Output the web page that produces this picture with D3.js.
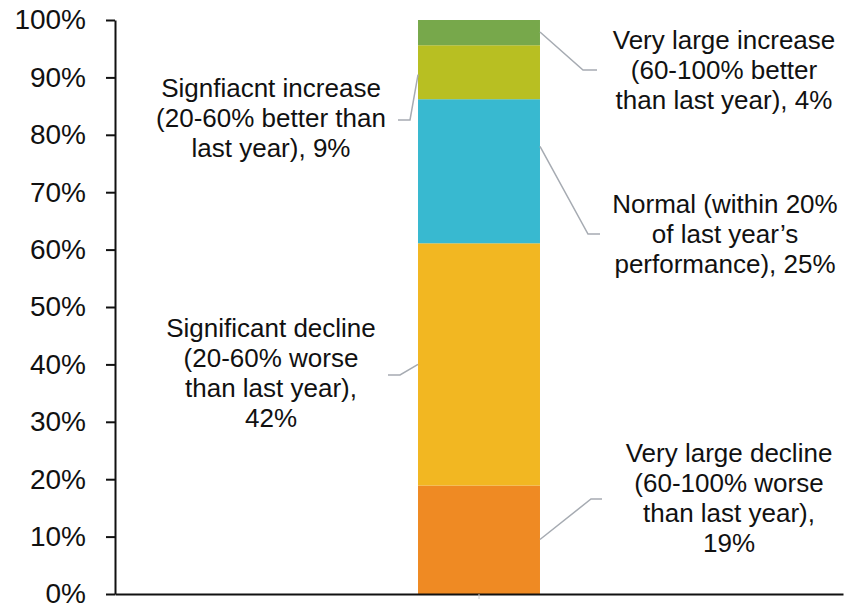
<!DOCTYPE html>
<html>
<head>
<meta charset="utf-8">
<script src="https://cdn.jsdelivr.net/npm/d3@7"></script>
<style>
  body { margin: 0; background: #fff; }
  text { font-family: "Liberation Sans", Arial, sans-serif; fill: #111; }
</style>
</head>
<body>
<svg width="846" height="604"></svg>
<script>
// Shares of each performance band, bottom to top
var categories = ["all"];
var bands = ["Very large decline", "Significant decline", "Normal", "Significant increase", "Very large increase"];
var values = [18.9, 42.2, 25.1, 9.4, 4.4];
var colors = ["#ef8a23", "#f2b722", "#38b9d0", "#b8bf22", "#77a84b"];
var labels = [
    ["Very large decline", "(60-100% worse", "than last year),", "19%"],
    ["Significant decline", "(20-60% worse", "than last year),", "42%"],
    ["Normal (within 20%", "of last year\u2019s", "performance), 25%"],
    ["Signfiacnt increase", "(20-60% better than", "last year), 9%"],
    ["Very large increase", "(60-100% better", "than last year), 4%"]
];
var yTicks = [0, 10, 20, 30, 40, 50, 60, 70, 80, 90, 100];

var svg = d3.select("svg"),
    plotLeft = 115, plotRight = 843, plotTop = 20, plotBottom = 594;

var x = d3.scaleBand().domain(categories).range([plotLeft, plotRight]).padding(0.713);
var y = d3.scaleLinear().domain([0, 100]).range([plotBottom, plotTop]);

// stack the segments
var stacked = [];
var acc = 0;
for (var i = 0; i < values.length; i++) {
    stacked.push({ name: bands[i], y0: acc, y1: acc + values[i], color: colors[i], lines: labels[i] });
    acc += values[i];
}

svg.append("g")
    .selectAll("rect")
    .data(stacked)
    .enter().append("rect")
    .attr("x", x("all"))
    .attr("width", x.bandwidth())
    .attr("y", function(d) { return y(d.y1); })
    .attr("height", function(d) { return y(d.y0) - y(d.y1); })
    .attr("fill", function(d) { return d.color; });

// y axis
var yAxis = d3.axisLeft(y)
    .tickValues(yTicks)
    .tickFormat(function(d) { return d + "%"; })
    .tickSize(9)
    .tickPadding(20)
    .tickSizeOuter(0);

var gy = svg.append("g")
    .attr("transform", "translate(" + plotLeft + ",0)")
    .call(yAxis);
gy.select(".domain").attr("stroke", "#111").attr("stroke-width", 2);
gy.selectAll(".tick line").attr("stroke", "#111").attr("stroke-width", 2);
gy.selectAll(".tick text").style("font-size", "28px").attr("fill", "#111")
    .style("font-family", "'Liberation Sans', Arial, sans-serif");

// x axis
var xAxis = d3.axisBottom(x).tickSize(5).tickSizeOuter(0).tickFormat("");
var gx = svg.append("g")
    .attr("transform", "translate(0," + plotBottom + ")")
    .call(xAxis);
gx.select(".domain").attr("stroke", "#111").attr("stroke-width", 2);
gx.selectAll(".tick line").attr("stroke", "#ccc").attr("stroke-width", 1);

// label placement: text centre x, first baseline, where the leader leaves the bar (in %), elbow, end
var barL = x("all"), barR = x("all") + x.bandwidth();
var place = [
    { cx: 729, base: 462, anchorY: 9.5, elbow: [591, 499], end: [602, 499], side: "r" },
    { cx: 271, base: 337, anchorY: 40, elbow: [400, 375], end: [388, 375], side: "l" },
    { cx: 725, base: 213, anchorY: 78, elbow: [588, 234], end: [600, 234], side: "r" },
    { cx: 271, base: 97, anchorY: 90.5, elbow: [410, 120], end: [398, 120], side: "l" },
    { cx: 724, base: 49, anchorY: 97.9, elbow: [583, 70], end: [597, 70], side: "r" }
];

var lab = svg.append("g").attr("class", "labels");
stacked.forEach(function(d, i) {
    var p = place[i];
    var sx = p.side == "r" ? barR : barL;
    lab.append("polyline")
        .attr("points", [[sx, y(p.anchorY)], p.elbow, p.end].map(function(q) { return q.join(","); }).join(" "))
        .attr("fill", "none")
        .attr("stroke", "#a6abb2")
        .attr("stroke-width", 1.5);
    var t = lab.append("text")
        .attr("text-anchor", "middle")
        .style("font-size", "26px");
    d.lines.forEach(function(line, j) {
        t.append("tspan").attr("x", p.cx).attr("y", p.base + j * 30).text(line);
    });
});
</script>
</body>
</html>
